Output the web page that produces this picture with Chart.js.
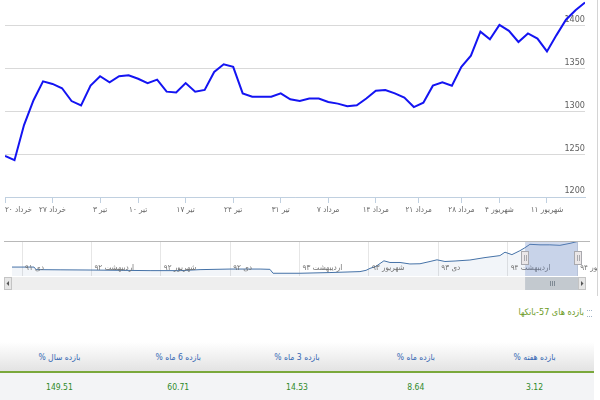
<!DOCTYPE html>
<html>
<head>
<meta charset="utf-8">
<script src="https://cdn.jsdelivr.net/npm/chart.js@4.4.1/dist/chart.umd.min.js"></script>
<style>
  body { margin: 0; background: #fff; font-family: "DejaVu Sans Condensed", "DejaVu Sans", sans-serif; }
  #page { position: relative; width: 600px; height: 400px; overflow: hidden; }
  #main { position: absolute; left: 0; top: 0; width: 600px; height: 226px; }
  #nav { position: absolute; left: 0; top: 236px; width: 597px; height: 55px; }
  #edge { position: absolute; left: 597px; top: 0; width: 1px; height: 296px; background: #d4d4d4; }
  #title { position: absolute; right: 16px; top: 307px; color: #6b9a23; font-size: 9px; direction: rtl; white-space: nowrap; }
  #icon { position: absolute; left: 587px; top: 310px; width: 5px; height: 5px;
          border-top: 1px dotted #9fb3c8; border-bottom: 1px dotted #9fb3c8; }
  table { position: absolute; left: 0; top: 342px; width: 594px; border-collapse: collapse; direction: rtl; table-layout: fixed; }
  th { height: 29px; padding: 0; background: linear-gradient(#ffffff, #e3e3e3); color: #3567b3;
       font-weight: normal; font-size: 8.5px; border-bottom: 2px solid #7aa83c; }
  td { height: 27px; padding: 0; background: #f3f4f6; color: #2f8a2a; font-size: 8.5px; text-align: center; }
</style>
</head>
<body>
<div id="page">
  <div id="main"><canvas id="mainChart"></canvas></div>
  <div id="nav"><canvas id="navChart"></canvas></div>
  <div id="edge"></div>
  <div id="title">بازده های 57-بانکها</div>
  <div id="icon"></div>
  <table>
    <thead><tr id="head"></tr></thead>
    <tbody><tr id="vals"></tr></tbody>
  </table>
</div>
<script>
// main series, one value per trading day
const mainValues = [1248, 1243, 1284, 1313, 1335, 1332, 1327, 1312, 1307, 1330,
  1341, 1334, 1341, 1342, 1338, 1333, 1337, 1323, 1322, 1333,
  1323, 1325, 1346, 1355, 1352, 1321, 1317, 1317, 1317, 1321,
  1314, 1312, 1315, 1315, 1311, 1309, 1306, 1307, 1315, 1324,
  1325, 1321, 1316, 1305, 1310, 1330, 1334, 1330, 1352, 1365,
  1393, 1384, 1401, 1394, 1381, 1391, 1385, 1370, 1389, 1407,
  1418, 1427];
const xTickPos = [0, 5, 10, 14, 19, 24, 29, 34, 39, 43.5, 48, 52, 57];
const xTickLabels = ['خرداد ۲۰', 'خرداد ۲۷', 'تیر ۳', 'تیر ۱۰', 'تیر ۱۷', 'تیر ۲۴', 'تیر ۳۱',
  'مرداد ۷', 'مرداد ۱۴', 'مرداد ۲۱', 'مرداد ۲۸', 'شهریور ۴', 'شهریور ۱۱'];
const yTicks = [1200, 1250, 1300, 1350, 1400];

// navigator: months since دی ۹۱ and index level
const navMonths = [-0.58, 0.69, 0.81, 2.19, 3.92, 5.65, 7.38, 9.11, 10.26, 11.99,
  13.72, 14.29, 14.47, 16.02, 17.75, 19.48, 19.83, 20.06, 20.4, 20.86,
  21.21, 21.79, 22.36, 22.94, 23.52, 23.92, 24.38, 24.96, 25.82, 26.69,
  27.55, 27.84, 28.24, 28.7, 28.99, 29.28, 29.86, 30.43, 31.01, 31.59, 32.05];
const navValues = [576, 576, 491, 485, 478, 468, 458, 458, 491, 510,
  510, 501, 371, 371, 394, 426, 468, 533, 598, 783,
  728, 728, 679, 686, 761, 816, 761, 777, 810, 891,
  956, 1069, 988, 1118, 1216, 1330, 1313, 1313, 1297, 1362, 1427];
const navTickPos = [0, 4, 8, 12, 16, 20, 24, 28, 32];
const navTickLabels = ['دی ۹۱', 'اردیبهشت ۹۲', 'شهریور ۹۲', 'دی ۹۲', 'اردیبهشت ۹۳',
  'شهریور ۹۳', 'دی ۹۳', 'اردیبهشت ۹۴', 'شهریور ۹۴'];
const navRange = [29.0, 32.05];

const returnHeads = ['بازده هفته %', 'بازده ماه %', 'بازده 3 ماه %', 'بازده 6 ماه %', 'بازده سال %'];
const returnValues = ['3.12', '8.64', '14.53', '60.71', '149.51'];

const FONT = "'DejaVu Sans Condensed', 'DejaVu Sans', sans-serif";
const lastIdx = mainValues.length - 1;

new Chart(document.getElementById('mainChart'), {
  type: 'line',
  data: {
    datasets: [{
      data: mainValues.map((v, i) => ({ x: i, y: v })),
      borderColor: '#1414f2',
      borderWidth: 2,
      pointRadius: 0,
      tension: 0
    }]
  },
  options: {
    responsive: true,
    maintainAspectRatio: false,
    animation: false,
    layout: { padding: { left: 5, right: 15, top: 0, bottom: 0 } },
    plugins: { legend: { display: false }, tooltip: { enabled: false } },
    scales: {
      x: {
        type: 'linear',
        min: 0,
        max: lastIdx,
        afterBuildTicks: s => { s.ticks = xTickPos.concat([lastIdx]).map(v => ({ value: v })); },
        afterFit: s => { s.height = 29; s.paddingLeft = 0; s.paddingRight = 0; },
        ticks: {
          autoSkip: false,
          maxRotation: 0,
          align: 'inner',
          padding: 2,
          color: '#666',
          font: { family: FONT, size: 8 },
          callback: v => { const k = xTickPos.indexOf(v); return k < 0 ? '' : xTickLabels[k]; }
        },
        grid: {
          drawOnChartArea: false,
          tickLength: 6,
          color: c => (c.tick && c.tick.value === lastIdx) ? 'rgba(0,0,0,0)' : '#C0D0E0'
        },
        border: { color: '#C0D0E0' }
      },
      y: {
        position: 'right',
        min: 1200,
        max: 1430,
        afterBuildTicks: s => { s.ticks = yTicks.map(v => ({ value: v })); },
        afterFit: s => { s.width = 0; s.paddingTop = 0; s.paddingBottom = 0; },
        ticks: {
          mirror: true,
          padding: 0,
          labelOffset: -6,
          color: '#606060',
          font: { family: FONT, size: 9 },
          callback: v => String(v)
        },
        grid: { color: '#d9d9d9', drawTicks: false },
        border: { display: false }
      }
    }
  }
});

// navigator extras: top rule, labels, selection mask, handles and scrollbar
const navExtras = {
  id: 'navExtras',
  afterDraw(chart) {
    const ctx = chart.ctx;
    const a = chart.chartArea;
    const xs = chart.scales.x;
    ctx.save();
    ctx.strokeStyle = '#b8b8b8';
    ctx.lineWidth = 1;
    ctx.beginPath();
    ctx.moveTo(4, a.top + 0.5);
    ctx.lineTo(590, a.top + 0.5);
    ctx.stroke();

    ctx.fillStyle = '#6d6d6d';
    ctx.font = '8px ' + FONT;
    ctx.textBaseline = 'middle';
    ctx.textAlign = 'left';
    navTickPos.forEach((m, i) => {
      ctx.fillText(navTickLabels[i], xs.getPixelForValue(m) + 3, a.bottom - 8);
    });

    const x0 = xs.getPixelForValue(navRange[0]);
    const x1 = xs.getPixelForValue(navRange[1]);
    ctx.fillStyle = 'rgba(102,133,194,0.3)';
    ctx.fillRect(x0, a.top + 1, x1 - x0, a.bottom - a.top - 1);

    // scrollbar
    const sy = a.bottom + 1, sh = 13;
    ctx.fillStyle = '#eeeeee';
    ctx.fillRect(4, sy, 582, sh);
    ctx.fillStyle = '#c3c9cf';
    ctx.fillRect(x0, sy, x1 - x0, sh);
    ctx.strokeStyle = '#7f8a94';
    ctx.beginPath();
    const mid = Math.round((x0 + x1) / 2);
    [-2, 0, 2].forEach(d => { ctx.moveTo(mid + d + 0.5, sy + 4); ctx.lineTo(mid + d + 0.5, sy + sh - 4); });
    ctx.stroke();
    [[4, 'l'], [a.right, 'r']].forEach(([bx, dir]) => {
      ctx.fillStyle = '#e6e6e6';
      ctx.fillRect(bx, sy, 8, sh);
      ctx.strokeStyle = '#c4c4c4';
      ctx.strokeRect(bx + 0.5, sy + 0.5, 7, sh - 1);
      ctx.fillStyle = '#555';
      ctx.beginPath();
      const cy = sy + sh / 2;
      if (dir === 'l') { ctx.moveTo(bx + 2.5, cy); ctx.lineTo(bx + 5, cy - 2.5); ctx.lineTo(bx + 5, cy + 2.5); }
      else { ctx.moveTo(bx + 5.5, cy); ctx.lineTo(bx + 3, cy - 2.5); ctx.lineTo(bx + 3, cy + 2.5); }
      ctx.fill();
    });

    // handles
    [x0, x1].forEach(hx => {
      const hy = a.top + 10;
      ctx.fillStyle = '#ebe7e8';
      ctx.strokeStyle = '#a9a9ae';
      ctx.fillRect(Math.round(hx) - 3.5, hy, 7, 14);
      ctx.strokeRect(Math.round(hx) - 3.5, hy + 0.5, 7, 13);
      ctx.beginPath();
      ctx.moveTo(Math.round(hx) - 0.5, hy + 4); ctx.lineTo(Math.round(hx) - 0.5, hy + 10);
      ctx.moveTo(Math.round(hx) + 1.5, hy + 4); ctx.lineTo(Math.round(hx) + 1.5, hy + 10);
      ctx.stroke();
    });
    ctx.restore();
  }
};

new Chart(document.getElementById('navChart'), {
  type: 'line',
  data: {
    datasets: [{
      data: navMonths.map((m, i) => ({ x: m, y: navValues[i] })),
      borderColor: '#4572a7',
      borderWidth: 1,
      backgroundColor: 'rgba(69,114,167,0.07)',
      fill: 'start',
      pointRadius: 0,
      tension: 0
    }]
  },
  options: {
    responsive: true,
    maintainAspectRatio: false,
    animation: false,
    layout: { padding: { left: 12, right: 19, top: 5, bottom: 15 } },
    plugins: { legend: { display: false }, tooltip: { enabled: false } },
    scales: {
      x: {
        type: 'linear',
        min: navMonths[0],
        max: navMonths[navMonths.length - 1],
        afterBuildTicks: s => { s.ticks = navTickPos.map(v => ({ value: v })); },
        afterFit: s => { s.height = 0; s.paddingLeft = 0; s.paddingRight = 0; },
        ticks: { display: false },
        grid: { color: '#e6e6e6', drawTicks: false },
        border: { display: false }
      },
      y: { display: false, min: 280, max: 1440 }
    }
  },
  plugins: [navExtras]
});

const head = document.getElementById('head');
const vals = document.getElementById('vals');
returnHeads.forEach((h, i) => {
  const th = document.createElement('th');
  th.textContent = h;
  head.appendChild(th);
  const td = document.createElement('td');
  td.textContent = returnValues[i];
  vals.appendChild(td);
});
</script>
</body>
</html>
